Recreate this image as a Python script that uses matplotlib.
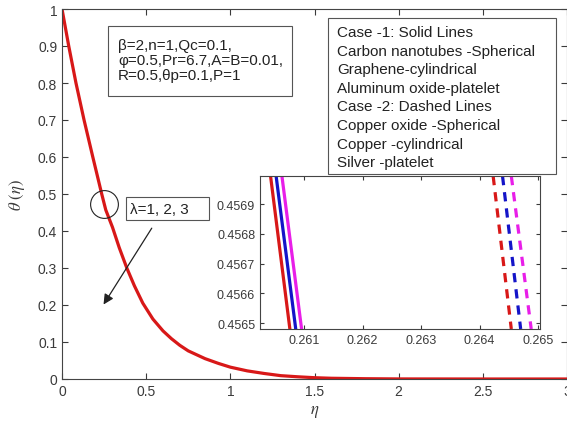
import matplotlib
matplotlib.use("Agg")
import matplotlib.pyplot as plt
from matplotlib.patches import Rectangle

plt.rcParams['font.family'] = ['Liberation Sans', 'DejaVu Sans']
plt.rcParams['mathtext.fontset'] = 'stix'

# main profile theta(eta)
eta = [0, 0.04, 0.083, 0.131, 0.183, 0.236, 0.26, 0.30, 0.34, 0.385, 0.43, 0.48,
       0.54, 0.60, 0.65, 0.70, 0.75, 0.85, 0.93, 1.0, 1.1, 1.2, 1.3, 1.4, 1.5,
       1.6, 1.8, 2.0, 2.5, 3.0]
theta = [1, 0.90, 0.80, 0.70, 0.60, 0.50, 0.457, 0.41, 0.355, 0.30, 0.252, 0.205,
         0.162, 0.13, 0.109, 0.091, 0.076, 0.055, 0.042, 0.032, 0.022, 0.015, 0.009,
         0.006, 0.0035, 0.002, 0.0008, 0.0002, 0.0, 0.0]

# inset (zoomed) segments: eta at top / bottom of the inset window
ins_theta = [0.456995, 0.45648]
solid_eta = {"#d81818": [0.26043, 0.26076], "#1414c8": [0.260525, 0.26086], "#e81ee8": [0.260624, 0.26096]}
dash_eta = {"#d81818": [0.26423, 0.26454], "#1414c8": [0.26439, 0.2647], "#e81ee8": [0.26454, 0.26488]}
ins_xticks = [0.261, 0.262, 0.263, 0.264, 0.265]
ins_yticks = [0.4565, 0.4566, 0.4567, 0.4568, 0.4569]

params_txt = "β=2,n=1,Qc=0.1,\nφ=0.5,Pr=6.7,A=B=0.01,\nR=0.5,θp=0.1,P=1"
cases_txt = ["Case -1: Solid Lines", "Carbon nanotubes -Spherical", "Graphene-cylindrical",
             "Aluminum oxide-platelet", "Case -2: Dashed Lines", "Copper oxide -Spherical",
             "Copper -cylindrical", "Silver -platelet"]

W, H = 567, 427
fig = plt.figure(figsize=(W / 100, H / 100), dpi=100)
fig.patch.set_facecolor("white")

def fx(p): return p / W
def fy(p): return 1 - p / H

tc = "#3a3a3a"
ax = fig.add_axes([fx(62), fy(380), fx(567 - 62), (380 - 10) / H])
ax.plot(eta, theta, color="#d81818", lw=2.3, solid_joinstyle="round")
ax.set_xlim(0, 3)
ax.set_ylim(0, 1)
ax.set_xticks([0, 0.5, 1, 1.5, 2, 2.5, 3])
ax.set_xticklabels(["0", "0.5", "1", "1.5", "2", "2.5", "3"])
ax.set_yticks([i / 10 for i in range(11)])
ax.set_yticklabels(["0", "0.1", "0.2", "0.3", "0.4", "0.5", "0.6", "0.7", "0.8", "0.9", "1"])
ax.tick_params(direction="in", top=True, right=True, labelsize=10, colors=tc, length=4, width=0.8)
for s in ax.spines.values():
    s.set_color("#444444")
    s.set_linewidth(0.8)
ax.set_xlabel(r"$\eta$", fontsize=12, color=tc, labelpad=4)
ax.set_ylabel(r"$\theta\ (\eta)$", fontsize=12, color=tc, labelpad=8)

# circle + lambda label + arrow
ax.plot([0.25], [0.473], marker="o", ms=20, mfc="none", mec="#222222", mew=0.8)
ax.annotate("", xy=(0.238, 0.195), xytext=(0.542, 0.414),
            arrowprops=dict(arrowstyle="-|>", color="#222222", lw=0.9, mutation_scale=15))
fig.patches.append(Rectangle((fx(126), fy(221)), fx(209 - 126), (221 - 198) / H,
                             transform=fig.transFigure, fill=True, fc="white", ec="#555555", lw=0.8))
fig.text(fx(130), fy(210), "λ=1, 2, 3", fontsize=11, color="#222222", va="center")

# parameter box
fig.patches.append(Rectangle((fx(108), fy(97)), fx(292 - 108), (97 - 27) / H,
                             transform=fig.transFigure, fill=True, fc="white", ec="#555555", lw=0.8))
fig.text(fx(118), fy(61), params_txt, fontsize=11, color="#222222", va="center", linespacing=1.1)

# inset
ins = fig.add_axes([fx(260), fy(330), fx(540 - 260), (330 - 177) / H])
for c, xs in solid_eta.items():
    ins.plot(xs, ins_theta, color=c, lw=2.3)
for c, xs in dash_eta.items():
    ins.plot(xs, ins_theta, color=c, lw=2.3, dashes=(2.9, 2.2))
ins.set_xlim(0.26025, 0.26503)
ins.set_ylim(ins_theta[1], ins_theta[0])
ins.set_xticks(ins_xticks)
ins.set_xticklabels([str(v) for v in ins_xticks])
ins.set_yticks(ins_yticks)
ins.set_yticklabels([str(v) for v in ins_yticks])
ins.tick_params(direction="in", top=True, right=True, labelsize=9, colors=tc, length=3, width=0.8)
for s in ins.spines.values():
    s.set_color("#444444")
    s.set_linewidth(0.8)

# case legend box (on top of the inset)
ax2 = fig.add_axes([0, 0, 1, 1], facecolor="none")
ax2.set_axis_off()
ax2.set_xlim(0, W)
ax2.set_ylim(H, 0)
ax2.add_patch(Rectangle((328, 19), 556 - 328, 175 - 19, fc="white", ec="#555555", lw=0.8))
for i, t in enumerate(cases_txt):
    ax2.text(337, 33 + i * 18.6, t, fontsize=11, color="#222222", va="center")

fig.savefig("out.png", dpi=100)
